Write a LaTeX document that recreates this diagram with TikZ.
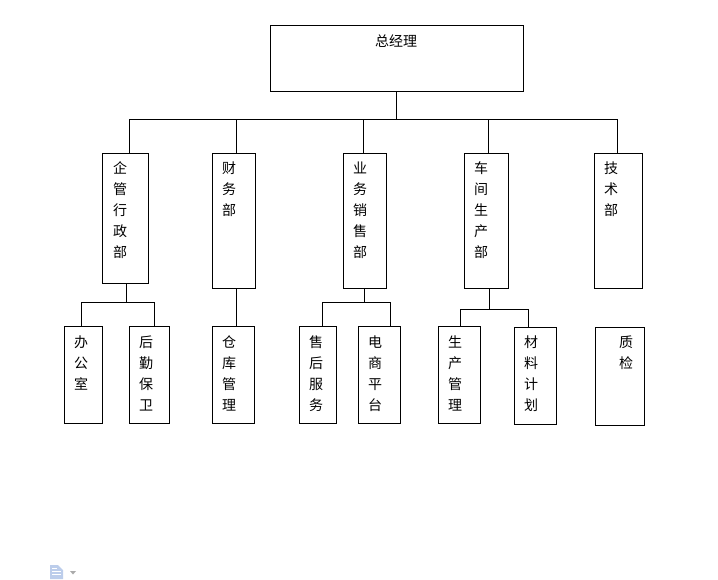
\documentclass[tikz,border=0pt]{standalone}
\usepackage{fontspec}
\setmainfont{Noto Sans CJK SC}
\definecolor{iconblue}{RGB}{188,205,235}
\definecolor{icongrey}{RGB}{170,170,170}
\tikzset{
  bx/.style={draw=black,line width=1pt,fill=white,inner sep=0pt,outer sep=0pt,anchor=north west},
  conn/.style={draw=black,line width=1pt,line cap=square}
}
% name, x0, y0, width, height, text left offset, text top offset, text
\newcommand\orgbox[8]{%
  \node[bx,minimum width=#4pt,minimum height=#5pt] (#1) at (#2,#3)
    {\parbox[c][#5pt][t]{#4pt}{\vspace*{#7pt}\hspace*{#6pt}\parbox[t]{16pt}{\fontsize{14pt}{21pt}\selectfont\centering #8\par}}};%
}
\begin{document}
\begin{tikzpicture}[x=1pt,y=-1pt]
\useasboundingbox (0,0) rectangle (718,579);
\fill[white] (0,0) rectangle (718,579);
% boxes
\orgbox{gm}{270}{25}{253}{66}{118}{10}{\hbox to 16pt{\hss 总经理\hss}}
\orgbox{a}{102}{153}{46}{130}{10}{9}{企\\管\\行\\政\\部}
\orgbox{b}{212}{153}{43}{135}{9}{9}{财\\务\\部}
\orgbox{c}{343}{153}{43}{135}{9}{9}{业\\务\\销\\售\\部}
\orgbox{d}{464}{153}{44}{135}{9}{9}{车\\间\\生\\产\\部}
\orgbox{e}{594}{153}{48}{135}{9}{9}{技\\术\\部}
\orgbox{a1}{64}{326}{38}{97}{9}{10}{办\\公\\室}
\orgbox{a2}{129}{326}{40}{97}{9}{10}{后\\勤\\保\\卫}
\orgbox{b1}{212}{326}{42}{97}{9}{10}{仓\\库\\管\\理}
\orgbox{c1}{299}{326}{37}{97}{9}{10}{售\\后\\服\\务}
\orgbox{c2}{358}{326}{42}{97}{9}{10}{电\\商\\平\\台}
\orgbox{d1}{438}{326}{42}{97}{9}{10}{生\\产\\管\\理}
\orgbox{d2}{514}{327}{42}{97}{9}{9}{材\\料\\计\\划}
\orgbox{e1}{595}{327}{49}{98}{23}{9}{质\\检}
% junction coordinates
\coordinate (top) at (396,119);
\coordinate (ja) at (129,119);
\coordinate (jb) at (236,119);
\coordinate (jc) at (363,119);
\coordinate (jd) at (488,119);
\coordinate (je) at (617,119);
\coordinate (sa) at (126,302);
\coordinate (sa1) at (81,302);
\coordinate (sa2) at (154,302);
\coordinate (sc) at (364,302);
\coordinate (sc1) at (322,302);
\coordinate (sc2) at (390,302);
\coordinate (sd) at (489,309);
\coordinate (sd1) at (460,309);
\coordinate (sd2) at (528,309);
% connectors
\draw[conn] (top |- gm.south) -- (top);
\draw[conn] (ja) -- (je);
\foreach \j/\n in {ja/a,jb/b,jc/c,jd/d,je/e}{\draw[conn] (\j) -- (\j |- \n.north);}
\draw[conn] (sa |- a.south) -- (sa);
\draw[conn] (sa1) -- (sa2);
\draw[conn] (sa1) -- (sa1 |- a1.north);
\draw[conn] (sa2) -- (sa2 |- a2.north);
\draw[conn] (jb |- b.south) -- (jb |- b1.north);
\draw[conn] (sc |- c.south) -- (sc);
\draw[conn] (sc1) -- (sc2);
\draw[conn] (sc1) -- (sc1 |- c1.north);
\draw[conn] (sc2) -- (sc2 |- c2.north);
\draw[conn] (sd |- d.south) -- (sd);
\draw[conn] (sd1) -- (sd2);
\draw[conn] (sd1) -- (sd1 |- d1.north);
\draw[conn] (sd2) -- (sd2 |- d2.north);
% document icon
\fill[iconblue] (50,565) -- (58,565) -- (63,570) -- (63,579) -- (50,579) -- cycle;
\fill[white] (52,568) rectangle (57,569);
\fill[white] (52,571) rectangle (61,572);
\fill[white] (52,574) rectangle (61,575);
\fill[icongrey] (70,571) -- (76,571) -- (73,574.5) -- cycle;
\end{tikzpicture}
\end{document}
